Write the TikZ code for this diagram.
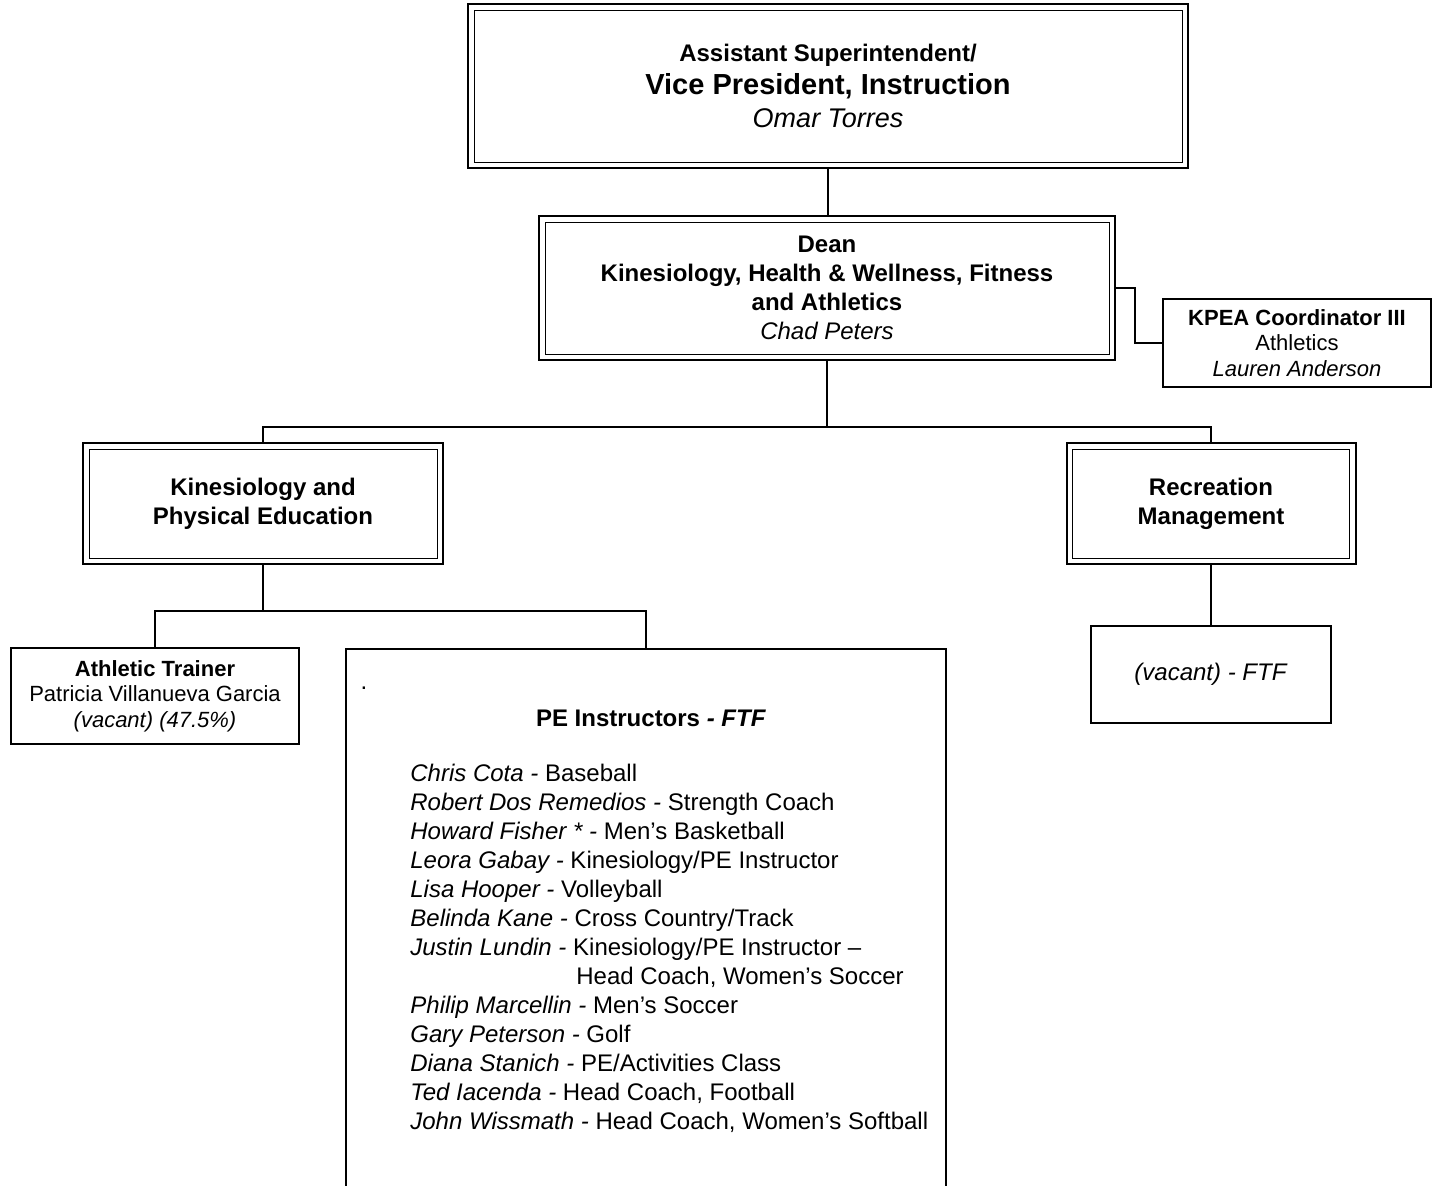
\documentclass[tikz,border=0pt]{standalone}
\usepackage{fontspec}
\setmainfont{Liberation Sans}
\usetikzlibrary{positioning}

\tikzset{
  dbox/.style={draw, line width=1pt, align=center, inner sep=0pt,
    path picture={\draw[line width=0.5pt]
      ([shift={(3pt,3pt)}]path picture bounding box.south west) rectangle
      ([shift={(-3pt,-3pt)}]path picture bounding box.north east);}},
  sbox/.style={draw, line width=0.9pt, align=center, inner sep=0pt},
  link/.style={line width=0.9pt},
  twelve/.style={font=\fontsize{12}{14.5}\selectfont},
  eleven/.style={font=\fontsize{11}{12.75}\selectfont},
}

\begin{document}
\begin{tikzpicture}[x=0.5pt,y=-0.5pt]
  \useasboundingbox (0,0) rectangle (1435,1185);
  \clip (0,0) rectangle (1435,1185);

  % top of the chart
  \node[dbox, minimum width=360pt, minimum height=82pt,
        font=\fontsize{14.5}{16.5}\selectfont] (vp) at (828,86)
    {{\fontsize{12}{16.5}\selectfont\bfseries Assistant Superintendent/}\\
     \textbf{Vice President, Instruction}\\
     {\fontsize{13.5}{17}\selectfont\itshape Omar Torres}};

  \node[dbox, twelve, minimum width=288pt, minimum height=72pt] (dean) at (827,288)
    {\textbf{Dean}\\
     \textbf{Kinesiology, Health \& Wellness, Fitness}\\
     \textbf{and Athletics}\\
     \textit{Chad Peters}};

  \node[sbox, eleven, minimum width=134pt, minimum height=44pt] (kpea) at (1297,343)
    {\textbf{KPEA Coordinator III}\\
     Athletics\\
     \textit{Lauren Anderson}};

  % departments
  \node[dbox, twelve, minimum width=180pt, minimum height=60.5pt] (kpe) at (263,503.5)
    {\textbf{Kinesiology and}\\ \textbf{Physical Education}};
  \node[dbox, twelve, minimum width=144.5pt, minimum height=60.5pt] (rec) at (1211,503.5)
    {\textbf{Recreation}\\ \textbf{Management}};

  \node[sbox, twelve, minimum width=120pt, minimum height=48.5pt] (vac) at (1211,674.5)
    {\textit{(vacant) - FTF}};

  \node[sbox, eleven, minimum width=144pt, minimum height=48pt] (trainer) at (155,696)
    {\textbf{Athletic Trainer}\\
     Patricia Villanueva Garcia\\
     \textit{(vacant) (47.5\%)}};

  % PE instructors, box runs off the page
  \node[sbox, minimum width=300pt, minimum height=276pt, anchor=north] (pe) at (646,648) {};
  \node[twelve] (pedot) at (364,688) {.};
  \node[twelve] (pehead) at (651,718) {\textbf{PE Instructors \textit{- FTF}}};
  \node[twelve, align=left, inner sep=0pt, anchor=north west] (pelist) at (410,764)
    {\textit{Chris Cota -} Baseball\\
     \textit{Robert Dos Remedios -} Strength Coach\\
     \textit{Howard Fisher * -} Men’s Basketball\\
     \textit{Leora Gabay -} Kinesiology/PE Instructor\\
     \textit{Lisa Hooper -} Volleyball\\
     \textit{Belinda Kane -} Cross Country/Track\\
     \textit{Justin Lundin -} Kinesiology/PE Instructor –\\
     \hspace*{83pt}Head Coach, Women’s Soccer\\
     \textit{Philip Marcellin -} Men’s Soccer\\
     \textit{Gary Peterson -} Golf\\
     \textit{Diana Stanich -} PE/Activities Class\\
     \textit{Ted Iacenda -} Head Coach, Football\\
     \textit{John Wissmath -} Head Coach, Women’s Softball};

  % connectors
  \draw[link] (vp.south) -- (vp.south |- dean.north);
  \draw[link] (dean.east) -- ++(19,0) |- (kpea.west);
  \draw[link] (dean.south) -- ++(0,66) -| (kpe.north);
  \draw[link] (dean.south) -- ++(0,66) -| (rec.north);
  \draw[link] (rec.south) -- (vac.north);
  \draw[link] (kpe.south) -- ++(0,46) -| (trainer.north);
  \draw[link] (kpe.south) -- ++(0,46) -| (pe.north);
\end{tikzpicture}
\end{document}
